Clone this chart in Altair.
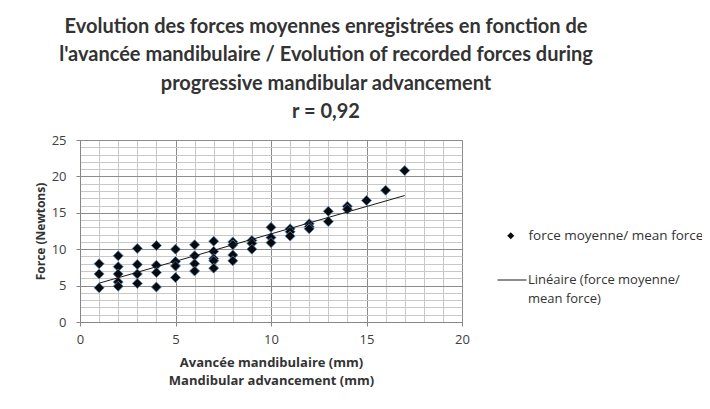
import altair as alt
import pandas as pd

# Data
advance_mm = [1, 1, 1,
              2, 2, 2, 2, 2,
              3, 3, 3, 3,
              4, 4, 4, 4,
              5, 5, 5, 5,
              6, 6, 6, 6,
              7, 7, 7, 7, 7,
              8, 8, 8, 8,
              9, 9, 9,
              10, 10, 10,
              11, 11, 11,
              12, 12, 12,
              13, 13,
              14, 14,
              15, 16, 17]
force_n = [8.0, 6.6, 4.7,
           9.1, 7.6, 6.6, 5.5, 4.9,
           10.1, 7.9, 6.6, 5.3,
           10.5, 7.8, 6.8, 4.8,
           10.0, 8.3, 7.7, 6.1,
           10.6, 9.1, 8.0, 7.0,
           11.1, 9.7, 8.7, 8.4, 7.4,
           11.0, 10.6, 9.2, 8.4,
           11.2, 10.8, 10.0,
           13.0, 11.6, 10.9,
           12.8, 12.4, 11.8,
           13.5, 13.1, 12.8,
           15.2, 13.8,
           15.9, 15.5,
           16.7, 18.1, 20.8]

series_points = "force moyenne/ mean force"
series_line = "Linéaire (force moyenne/ mean force)"

title_lines = [
    "Evolution des forces moyennes enregistrées en fonction de",
    "l'avancée mandibulaire / Evolution of recorded forces during",
    "progressive mandibular advancement",
    "r = 0,92",
]
x_title = ["Avancée mandibulaire (mm)", "Mandibular  advancement (mm)"]
y_title = "Force (Newtons)"
x_ticks = list(range(0, 21))
y_ticks = list(range(0, 26))

df = pd.DataFrame({"x": advance_mm, "y": force_n, "s": series_points})

TFONT = "Lato"
FONT = "Open Sans"
grid_color = {"condition": {"test": "datum.value % 5 === 0", "value": "#8c8c8c"}, "value": "#c8c8c8"}
tick_op = {"condition": {"test": "datum.value % 5 === 0", "value": 1}, "value": 0}

common = dict(labelExpr="datum.value % 5 === 0 ? datum.label : ''", format="d",
              labelOverlap=False, labelFlush=False, tickCount=100,
              gridColor=grid_color, tickOpacity=tick_op,
              tickSize=4, tickColor="#868686", domainColor="#868686",
              labelFont=FONT, labelFontSize=13, labelColor="#404040",
              titleFont=FONT, titleFontWeight="bold", titleColor="#333333")

x_enc = alt.X("x:Q", scale=alt.Scale(domain=[0, 20], nice=False),
              axis=alt.Axis(values=x_ticks, title=x_title, labelPadding=7,
                            titleFontSize=13, titlePadding=10, titleLineHeight=18,
                            **common))
y_enc = alt.Y("y:Q", scale=alt.Scale(domain=[0, 25], nice=False),
              axis=alt.Axis(values=y_ticks, title=y_title, labelPadding=10,
                            titleFontSize=12, titlePadding=4, **common))

points = alt.Chart(df).mark_point(filled=True, size=100, fill="#0a0a0a",
                                  stroke="#4f81bd", strokeWidth=0.8, opacity=1).encode(
    x=x_enc, y=y_enc,
    shape=alt.Shape("s:N", scale=alt.Scale(domain=[series_points], range=["diamond"]),
                    legend=alt.Legend(title=None, orient="none", legendX=424, legendY=89,
                                      symbolSize=50, symbolFillColor="black",
                                      symbolStrokeColor="black", symbolStrokeWidth=0.5,
                                      labelFont=FONT, labelFontSize=13.5, labelColor="#333333",
                                      labelOffset=11, labelLimit=300, padding=0)),
)

line = alt.Chart(df).transform_regression("x", "y", extent=[1, 17]).transform_calculate(
    s2=f"'{series_line}'"
).mark_line(strokeWidth=1).encode(
    x="x:Q", y="y:Q",
    color=alt.Color("s2:N", scale=alt.Scale(domain=[series_line], range=["#1a1a1a"]),
                    legend=alt.Legend(title=None, orient="none", legendX=417, legendY=125,
                                      symbolType="stroke", symbolSize=841,
                                      symbolStrokeWidth=1, symbolStrokeColor="#1a1a1a",
                                      labelExpr="['Linéaire (force moyenne/', 'mean force)']",
                                      labelFont=FONT, labelFontSize=13, labelColor="#333333",
                                      labelOffset=1, labelLimit=300, padding=0,
                                      labelBaseline="middle")),
)

chart = alt.layer(points, line).properties(
    width=382, height=182,
    autosize=alt.AutoSizeParams(type="none"),
    padding={"left": 72, "top": 132, "right": 240, "bottom": 70},
    title=alt.TitleParams(text=title_lines, font=TFONT, fontSize=20, fontWeight="bold",
                          color="#333333", anchor="middle", dx=55, offset=12,
                          lineHeight=28.5),
).configure_view(stroke="#8c8c8c").configure(
    background="white",
    style={"guide-label": {"lineHeight": 19}},
)

chart.save("out.html", embed_options={"renderer": "svg", "actions": False})
